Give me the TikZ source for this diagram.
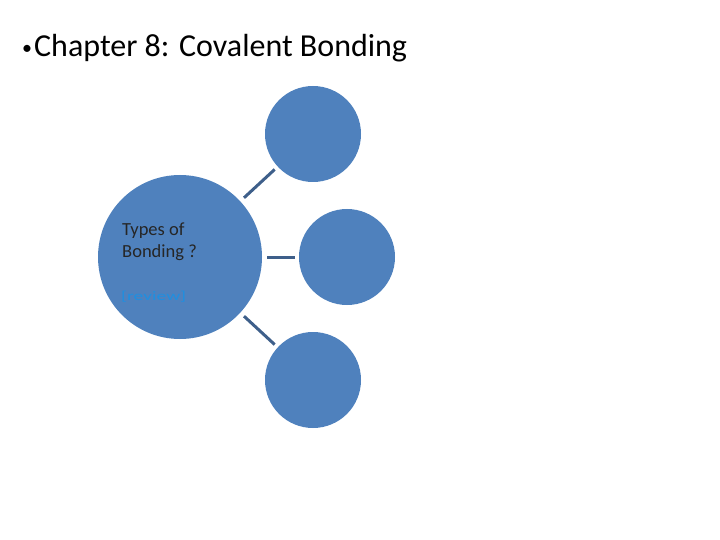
\documentclass[tikz,border=0pt]{standalone}
\usepackage{fontspec}
\usepackage{graphicx}
\setmainfont{Carlito}
\definecolor{circfill}{HTML}{4F81BD}
\definecolor{linkcol}{HTML}{3E5F8A}
\definecolor{revcol}{HTML}{1F8FE0}
\begin{document}
\begin{tikzpicture}[x=1pt,y=-1pt,
  bubble/.style={circle,fill=circfill,inner sep=0pt},
  link/.style={draw=linkcol,line width=3pt,shorten <=5pt,shorten >=4pt}]
\useasboundingbox (0,0) rectangle (720,540);
\node[anchor=base west,inner sep=0pt,font=\fontsize{32}{36}\selectfont] (title) at (22,57) {\raisebox{2pt}{\fontsize{20}{20}\selectfont•}\kern2pt Chapter 8: Covalent Bonding};
\node[bubble,minimum size=164pt] (big) at (180,257) {};
\node[bubble,minimum size=96pt] (top) at (313,134) {};
\node[bubble,minimum size=96pt] (mid) at (347,257) {};
\node[bubble,minimum size=96pt] (bot) at (313,380) {};
\draw[link] (big) -- (top);
\draw[link] (big) -- (mid);
\draw[link] (big) -- (bot);
\node[anchor=base west,inner sep=0pt,font=\fontsize{18.5}{22}\selectfont,text=black!85] (types) at (122,236) {Types of};
\node[anchor=base west,inner sep=0pt,font=\fontsize{18.5}{22}\selectfont,text=black!85] (bonding) at (122,258) {Bonding ?};
\node[anchor=base west,inner sep=0pt,font=\fontsize{13}{16}\selectfont,text=revcol] (rev) at (121,300) {\scalebox{1.5}[1]{[review]}};
\end{tikzpicture}
\end{document}
